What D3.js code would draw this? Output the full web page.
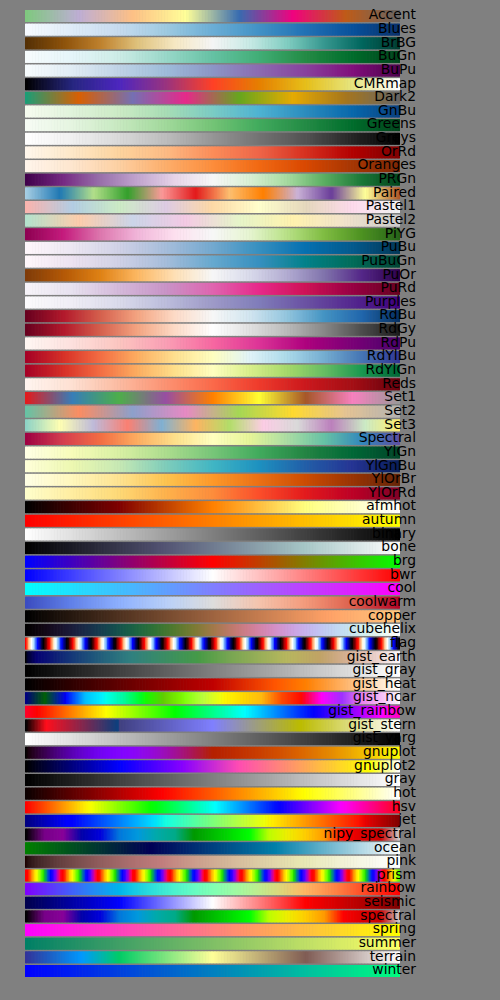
<!DOCTYPE html>
<html><head><meta charset="utf-8">
<script src="https://cdn.jsdelivr.net/npm/d3@7"></script>
<style>html,body{margin:0;padding:0;background:#808080;}svg{display:block;}</style>
</head><body>
<svg id="chart" width="500" height="1000"></svg>
<script>
// ---- categories (colormap names, top to bottom) ----
const names = ["Accent","Blues","BrBG","BuGn","BuPu","CMRmap","Dark2","GnBu","Greens","Greys","OrRd","Oranges","PRGn","Paired","Pastel1","Pastel2","PiYG","PuBu","PuBuGn","PuOr","PuRd","Purples","RdBu","RdGy","RdPu","RdYlBu","RdYlGn","Reds","Set1","Set2","Set3","Spectral","YlGn","YlGnBu","YlOrBr","YlOrRd","afmhot","autumn","binary","bone","brg","bwr","cool","coolwarm","copper","cubehelix","flag","gist_earth","gist_gray","gist_heat","gist_ncar","gist_rainbow","gist_stern","gist_yarg","gnuplot","gnuplot2","gray","hot","hsv","jet","nipy_spectral","ocean","pink","prism","rainbow","seismic","spectral","spring","summer","terrain","winter"];

// ColorBrewer groups (stops taken from d3-scale-chromatic)
const brewerSeq9 = ["Blues","BuGn","BuPu","GnBu","Greens","Greys","OrRd","Oranges","PuBu","PuBuGn","PuRd","Purples","RdPu","Reds","YlGn","YlGnBu","YlOrBr","YlOrRd"];
const brewerDiv11 = ["BrBG","PRGn","PiYG","PuOr","RdBu","RdGy","RdYlBu","RdYlGn","Spectral"];
const brewerReversed = ["PuOr"];
const brewerQual = ["Accent","Dark2","Paired","Pastel1","Pastel2","Set1","Set2","Set3"];

// ---- matplotlib segment data: [x, y0, y1] per channel ----
const seg_CMRmap = {
  r:[[0,0,0],[0.125,0.15,0.15],[0.25,0.3,0.3],[0.375,0.6,0.6],[0.5,1,1],[0.625,0.9,0.9],[0.75,0.9,0.9],[0.875,0.9,0.9],[1,1,1]],
  g:[[0,0,0],[0.125,0.15,0.15],[0.25,0.15,0.15],[0.375,0.2,0.2],[0.5,0.25,0.25],[0.625,0.5,0.5],[0.75,0.75,0.75],[0.875,0.9,0.9],[1,1,1]],
  b:[[0,0,0],[0.125,0.5,0.5],[0.25,0.75,0.75],[0.375,0.5,0.5],[0.5,0.15,0.15],[0.625,0,0],[0.75,0.1,0.1],[0.875,0.5,0.5],[1,1,1]]};
const seg_autumn = {r:[[0,1,1],[1,1,1]], g:[[0,0,0],[1,1,1]], b:[[0,0,0],[1,0,0]]};
const seg_binary = {r:[[0,1,1],[1,0,0]], g:[[0,1,1],[1,0,0]], b:[[0,1,1],[1,0,0]]};
const seg_bone = {
  r:[[0,0,0],[0.746032,0.652778,0.652778],[1,1,1]],
  g:[[0,0,0],[0.365079,0.319444,0.319444],[0.746032,0.777778,0.777778],[1,1,1]],
  b:[[0,0,0],[0.365079,0.444444,0.444444],[1,1,1]]};
const seg_brg = {r:[[0,0,0],[0.5,1,1],[1,0,0]], g:[[0,0,0],[0.5,0,0],[1,1,1]], b:[[0,1,1],[0.5,0,0],[1,0,0]]};
const seg_bwr = {r:[[0,0,0],[0.5,1,1],[1,1,1]], g:[[0,0,0],[0.5,1,1],[1,0,0]], b:[[0,1,1],[0.5,1,1],[1,0,0]]};
const seg_cool = {r:[[0,0,0],[1,1,1]], g:[[0,1,1],[1,0,0]], b:[[0,1,1],[1,1,1]]};
const seg_coolwarm = {
  r:[[0,0.231,0.231],[0.125,0.384,0.384],[0.25,0.553,0.553],[0.375,0.722,0.722],[0.5,0.867,0.867],[0.625,0.961,0.961],[0.75,0.957,0.957],[0.875,0.871,0.871],[1,0.706,0.706]],
  g:[[0,0.298,0.298],[0.125,0.510,0.510],[0.25,0.690,0.690],[0.375,0.816,0.816],[0.5,0.867,0.867],[0.625,0.769,0.769],[0.75,0.604,0.604],[0.875,0.376,0.376],[1,0.016,0.016]],
  b:[[0,0.753,0.753],[0.125,0.918,0.918],[0.25,0.996,0.996],[0.375,0.976,0.976],[0.5,0.867,0.867],[0.625,0.678,0.678],[0.75,0.482,0.482],[0.875,0.302,0.302],[1,0.149,0.149]]};
const seg_copper = {r:[[0,0,0],[0.809524,1,1],[1,1,1]], g:[[0,0,0],[1,0.7812,0.7812]], b:[[0,0,0],[1,0.4975,0.4975]]};
const seg_gist_earth = {
  r:[[0,0,0],[0.2824,0.1882,0.1882],[0.4588,0.2714,0.2714],[0.549,0.4719,0.4719],[0.698,0.7176,0.7176],[0.7882,0.7553,0.7553],[1,0.9922,0.9922]],
  g:[[0,0,0],[0.0275,0,0],[0.1098,0.1893,0.1893],[0.1647,0.3035,0.3035],[0.2078,0.3841,0.3841],[0.2824,0.502,0.502],[0.5216,0.6397,0.6397],[0.698,0.7171,0.7171],[0.7882,0.6392,0.6392],[0.8157,0.6549,0.6549],[0.8667,0.6991,0.6991],[0.898,0.743,0.743],[0.9412,0.8275,0.8275],[0.9647,0.8816,0.8816],[1,0.9843,0.9843]],
  b:[[0,0,0],[0.0039,0.1684,0.1684],[0.0078,0.2212,0.2212],[0.0275,0.4329,0.4329],[0.0314,0.4549,0.4549],[0.2824,0.5004,0.5004],[0.4667,0.2748,0.2748],[0.5451,0.3205,0.3205],[0.7843,0.3961,0.3961],[0.8941,0.6651,0.6651],[1,0.9843,0.9843]]};
const seg_gray = {r:[[0,0,0],[1,1,1]], g:[[0,0,0],[1,1,1]], b:[[0,0,0],[1,1,1]]};
const seg_gist_yarg = {r:[[0,1,1],[1,0,0]], g:[[0,1,1],[1,0,0]], b:[[0,1,1],[1,0,0]]};
const seg_gist_ncar = {
  r:[[0,0,0],[0.3098,0,0],[0.3725,0.3993,0.3993],[0.4235,0.5003,0.5003],[0.5333,1,1],[0.7922,1,1],[0.8471,0.6218,0.6218],[0.898,0.9235,0.9235],[1,0.9961,0.9961]],
  g:[[0,0,0],[0.051,0.3722,0.3722],[0.1059,0,0],[0.1569,0.7202,0.7202],[0.1608,0.7537,0.7537],[0.1647,0.7752,0.7752],[0.2157,1,1],[0.2588,0.9804,0.9804],[0.2706,0.9804,0.9804],[0.3176,1,1],[0.3686,0.8081,0.8081],[0.4275,1,1],[0.5216,1,1],[0.6314,0.7292,0.7292],[0.6863,0.2796,0.2796],[0.7451,0,0],[0.7922,0,0],[0.8431,0.1753,0.1753],[0.898,0.5,0.5],[1,0.9725,0.9725]],
  b:[[0,0.502,0.502],[0.051,0.0222,0.0222],[0.1098,1,1],[0.2039,1,1],[0.2627,0.6145,0.6145],[0.3216,0,0],[0.4157,0,0],[0.4745,0.2342,0.2342],[0.5333,0,0],[0.5804,0,0],[0.6314,0.0549,0.0549],[0.6902,0,0],[0.7373,0,0],[0.7922,0.9738,0.9738],[0.8,1,1],[0.8431,1,1],[0.898,0.9341,0.9341],[1,0.9961,0.9961]]};
const seg_gist_stern = {
  r:[[0,0,0],[0.0547,1,1],[0.25,0.027,0.25],[1,1,1]],
  g:[[0,0,0],[1,1,1]],
  b:[[0,0,0],[0.5,1,1],[0.735,0,0],[1,1,1]]};
const seg_hot = {
  r:[[0,0.0416,0.0416],[0.365079,1,1],[1,1,1]],
  g:[[0,0,0],[0.365079,0,0],[0.746032,1,1],[1,1,1]],
  b:[[0,0,0],[0.746032,0,0],[1,1,1]]};
const seg_hsv = {
  r:[[0,1,1],[0.15873,1,1],[0.174603,0.96875,0.96875],[0.333333,0.03125,0.03125],[0.349206,0,0],[0.666667,0,0],[0.68254,0.03125,0.03125],[0.84127,0.96875,0.96875],[0.857143,1,1],[1,1,1]],
  g:[[0,0,0],[0.15873,0.9375,0.9375],[0.174603,1,1],[0.507937,1,1],[0.666667,0.0625,0.0625],[0.68254,0,0],[1,0,0]],
  b:[[0,0,0],[0.333333,0,0],[0.349206,0.0625,0.0625],[0.507937,1,1],[0.84127,1,1],[0.857143,0.9375,0.9375],[1,0.09375,0.09375]]};
const seg_jet = {
  r:[[0,0,0],[0.35,0,0],[0.66,1,1],[0.89,1,1],[1,0.5,0.5]],
  g:[[0,0,0],[0.125,0,0],[0.375,1,1],[0.64,1,1],[0.91,0,0],[1,0,0]],
  b:[[0,0.5,0.5],[0.11,1,1],[0.34,1,1],[0.65,0,0],[1,0,0]]};
const nipyX = [0,0.05,0.1,0.15,0.2,0.25,0.3,0.35,0.4,0.45,0.5,0.55,0.6,0.65,0.7,0.75,0.8,0.85,0.9,0.95,1];
const nipyR = [0,0.4667,0.5333,0,0,0,0,0,0,0,0,0,0,0.7333,0.9333,1,1,1,0.8667,0.8,0.8];
const nipyG = [0,0,0,0,0,0.4667,0.6,0.6667,0.6667,0.6,0.7333,0.8667,1,1,0.9333,0.8,0.6,0,0,0,0.8];
const nipyB = [0,0.5333,0.6,0.6667,0.8667,0.8667,0.8667,0.6667,0.5333,0,0,0,0,0,0,0,0,0,0,0,0.8];
const seg_nipy = {
  r: nipyX.map((x,i)=>[x,nipyR[i],nipyR[i]]),
  g: nipyX.map((x,i)=>[x,nipyG[i],nipyG[i]]),
  b: nipyX.map((x,i)=>[x,nipyB[i],nipyB[i]])};
const seg_seismic = {
  r:[[0,0,0],[0.25,0,0],[0.5,1,1],[0.75,1,1],[1,0.5,0.5]],
  g:[[0,0,0],[0.25,0,0],[0.5,1,1],[0.75,0,0],[1,0,0]],
  b:[[0,0.3,0.3],[0.25,1,1],[0.5,1,1],[0.75,0,0],[1,0,0]]};
const seg_spring = {r:[[0,1,1],[1,1,1]], g:[[0,0,0],[1,1,1]], b:[[0,1,1],[1,0,0]]};
const seg_summer = {r:[[0,0,0],[1,1,1]], g:[[0,0.5,0.5],[1,1,1]], b:[[0,0.4,0.4],[1,0.4,0.4]]};
const seg_winter = {r:[[0,0,0],[1,0,0]], g:[[0,0,0],[1,1,1]], b:[[0,1,1],[1,0.5,0.5]]};
// list-based maps: [x, r, g, b]
const list_gist_rainbow = [[0,1,0,0.16],[0.03,1,0,0],[0.215,1,1,0],[0.4,0,1,0],[0.586,0,1,1],[0.77,0,0,1],[0.954,1,0,1],[1,1,0,0.75]];
const list_terrain = [[0,0.2,0.2,0.6],[0.15,0,0.6,1],[0.25,0,0.8,0.4],[0.5,1,1,0.6],[0.75,0.5,0.36,0.33],[1,1,1,1]];

// ---- helpers ----
const clip = v => Math.max(0, Math.min(1, v));
function segChan(arr, x) {
  for (let i = 0; i < arr.length - 1; i++) {
    const a = arr[i], b = arr[i+1];
    if (x <= b[0]) { const t = (x - a[0]) / (b[0] - a[0] || 1); return a[2] + t * (b[1] - a[2]); }
  }
  return arr[arr.length-1][1];
}
const fromSeg = s => x => [segChan(s.r,x), segChan(s.g,x), segChan(s.b,x)];
const fromList = L => fromSeg({r:L.map(d=>[d[0],d[1],d[1]]), g:L.map(d=>[d[0],d[2],d[2]]), b:L.map(d=>[d[0],d[3],d[3]])});
const fromScheme = cols => { const ip = d3.piecewise(d3.interpolateRgb, cols); return x => { const c = d3.rgb(ip(x)); return [c.r/255, c.g/255, c.b/255]; }; };

const gp = {
  3: x=>x, 5: x=>x*x*x, 7: x=>Math.sqrt(x), 10: x=>Math.cos(x*Math.PI/2), 13: x=>Math.sin(x*Math.PI),
  15: x=>Math.sin(2*Math.PI*x), 23: x=>3*x-2, 28: x=>Math.abs((3*x-1)/2),
  30: x=>x/0.32-0.78125, 31: x=>2*x-0.84,
  32: x=> x<0.25 ? 4*x : (x<0.92 ? -2*x+1.84 : x/0.08-11.5),
  33: x=>Math.abs(2*x-0.5), 34: x=>2*x, 35: x=>2*x-0.5, 36: x=>2*x-1
};
const gnu = (a,b,c) => x => [gp[a](x), gp[b](x), gp[c](x)];
function cubehelix(x) {
  const gamma=1, s=0.5, r=-1.5, h=1;
  const xg = Math.pow(x, gamma), a = h*xg*(1-xg)/2, phi = 2*Math.PI*(s/3 + r*x);
  const f = (p0,p1) => xg + a*(p0*Math.cos(phi) + p1*Math.sin(phi));
  return [f(-0.14861,1.78277), f(-0.29227,-0.90649), f(1.97294,0)];
}
const flag = x => [0.75*Math.sin((x*31.5+0.25)*Math.PI)+0.5, Math.sin(x*31.5*Math.PI), 0.75*Math.sin((x*31.5-0.25)*Math.PI)+0.5];
const prism = x => [0.75*Math.sin((x*20.9+0.25)*Math.PI)+0.67, 0.75*Math.sin((x*20.9-0.25)*Math.PI)+0.33, -1.1*Math.sin(x*20.9*Math.PI)];
const hotF = fromSeg(seg_hot);
const pink = x => hotF(x).map(v => Math.sqrt((2*x + clip(v))/3));

const cmaps = {
  CMRmap: fromSeg(seg_CMRmap), afmhot: gnu(34,35,36), autumn: fromSeg(seg_autumn), binary: fromSeg(seg_binary),
  bone: fromSeg(seg_bone), brg: fromSeg(seg_brg), bwr: fromSeg(seg_bwr), cool: fromSeg(seg_cool),
  coolwarm: fromSeg(seg_coolwarm), copper: fromSeg(seg_copper), cubehelix: cubehelix, flag: flag,
  gist_earth: fromSeg(seg_gist_earth), gist_gray: fromSeg(seg_gray),
  gist_heat: x => [1.5*x, 2*x-1, 4*x-3], gist_ncar: fromSeg(seg_gist_ncar),
  gist_rainbow: fromList(list_gist_rainbow), gist_stern: fromSeg(seg_gist_stern), gist_yarg: fromSeg(seg_gist_yarg),
  gnuplot: gnu(7,5,15), gnuplot2: gnu(30,31,32), gray: fromSeg(seg_gray), hot: hotF, hsv: fromSeg(seg_hsv),
  jet: fromSeg(seg_jet), nipy_spectral: fromSeg(seg_nipy), ocean: gnu(23,28,3), pink: pink, prism: prism,
  rainbow: gnu(33,13,10), seismic: fromSeg(seg_seismic), spectral: fromSeg(seg_nipy), spring: fromSeg(seg_spring),
  summer: fromSeg(seg_summer), terrain: fromList(list_terrain), winter: fromSeg(seg_winter)
};
brewerSeq9.forEach(n => cmaps[n] = fromScheme(d3["scheme"+n][9]));
brewerDiv11.forEach(n => {
  const cols = d3["scheme"+n][11].slice();
  cmaps[n] = fromScheme(brewerReversed.includes(n) ? cols.reverse() : cols);
});
brewerQual.forEach(n => cmaps[n] = fromScheme(d3["scheme"+n]));

// ---- drawing ----
const N = 256;
const svg = d3.select("#chart");
svg.append("rect").attr("width",500).attr("height",1000).attr("fill","#808080");
const x = d3.scaleLinear().domain([0, N]).range([25, 400]);
const y = d3.scaleBand().domain(names).range([10, 977]).paddingInner(0.12).paddingOuter(0);
const toColor = c => d3.rgb(...c.map(v => Math.round(clip(v)*255))).formatHex();

const rows = svg.selectAll("g.row").data(names).join("g").attr("class","row")
  .attr("transform", d => `translate(0,${y(d)})`);
rows.each(function(name) {
  const f = cmaps[name];
  d3.select(this).selectAll("rect").data(d3.range(N)).join("rect")
    .attr("x", i => x(i))
    .attr("width", i => x(i+1) - x(i) + (i < N-1 ? 0.6 : 0))
    .attr("y", 0).attr("height", y.bandwidth())
    .attr("fill", i => toColor(f(i/(N-1))));
});
rows.append("text")
  .attr("x", 416).attr("y", y.bandwidth()/2 + 3.3)
  .attr("text-anchor","end")
  .attr("font-family","DejaVu Sans").attr("font-size","13.9px").attr("fill","#000")
  .text(d => d);
</script>
</body></html>
